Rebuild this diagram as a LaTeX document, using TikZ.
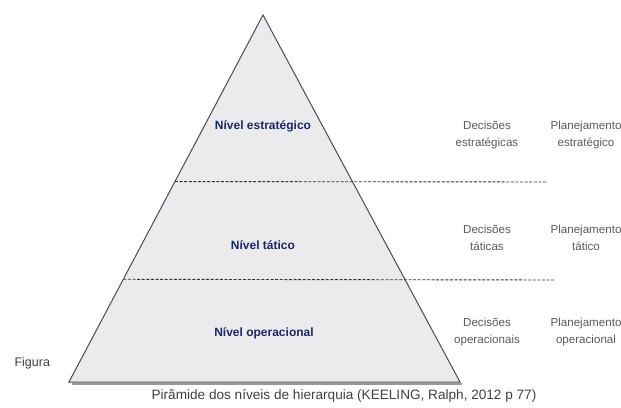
\documentclass[tikz,border=0pt]{standalone}
\usepackage{fontspec}
\setmainfont{Liberation Sans}
\usetikzlibrary{calc}
\definecolor{levelblue}{HTML}{1E2766}
\definecolor{notegray}{HTML}{5A5A5A}
\definecolor{pyrfill}{HTML}{EBEBED}

\begin{document}
\begin{tikzpicture}[
    x=1pt, y=-1pt,
    level/.style={font=\fontsize{12}{14}\selectfont\bfseries, text=levelblue},
    note/.style={align=center, font=\fontsize{11.6}{17}\selectfont, text=notegray},
    sep/.style={draw=black!80, line width=0.9pt, dash pattern=on 3pt off 1.6pt},
    edge/.style={draw=black!70, line width=1pt}
]
\useasboundingbox (0,0) rectangle (621,407);

% pyramid corners
\coordinate (apex) at (263,15);
\coordinate (bl) at (69,382);
\coordinate (br) at (460,382);

\fill[pyrfill] (apex) -- (bl) -- (br) -- cycle;
\draw[black!40, line width=2.2pt] ($(bl)+(3,2)$) -- ($(br)+(2,2)$);
\draw[edge, line join=miter] (apex) -- (bl) -- (br) -- cycle;

% separators between the levels
\coordinate (sepA) at ($(apex)!0.4538!(bl)$);
\coordinate (sepAend) at (548,182);
\coordinate (sepB) at ($(apex)!0.7201!(bl)$);
\coordinate (sepBend) at (555,280);
\draw[sep] (sepA) -- (sepAend);
\draw[sep] (sepB) -- (sepBend);

% levels
\node[level] (estrat) at (263,126) {Nível estratégico};
\node[level] (tatico) at (263,245) {Nível tático};
\node[level] (operac) at (264,333) {Nível operacional};

% decisions and planning
\node[note] (decE) at (487,135) {Decisões\\estratégicas};
\node[note] (plaE) at (586,135) {Planejamento\\estratégico};
\node[note] (decT) at (487,238) {Decisões\\táticas};
\node[note] (plaT) at (586,238) {Planejamento\\tático};
\node[note] (decO) at (487,332) {Decisões\\operacionais};
\node[note] (plaO) at (586,332) {Planejamento\\operacional};

% caption
\node[font=\fontsize{12.5}{14}\selectfont, text=black!75, anchor=west] (fig) at (11,363) {Figura};
\node[font=\fontsize{13.6}{15}\selectfont, text=black!75] (caption) at (344,396)
    {Pirâmide dos níveis de hierarquia (KEELING, Ralph, 2012 p 77)};
\end{tikzpicture}
\end{document}
